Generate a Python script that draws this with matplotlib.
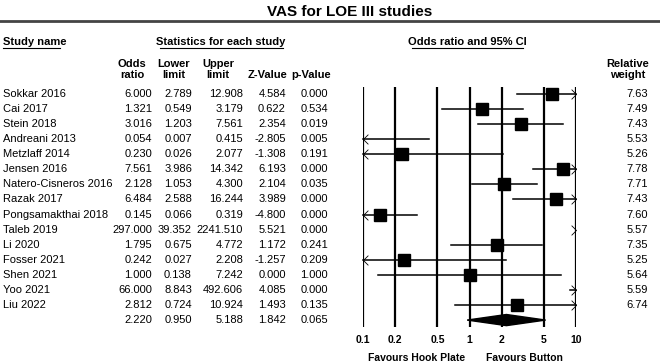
import matplotlib
matplotlib.use("Agg")
import matplotlib.pyplot as plt
from matplotlib.path import Path
from matplotlib.patches import Polygon

plt.rcParams['font.family'] = ['Liberation Sans', 'DejaVu Sans']

# data
studies = ["Sokkar 2016", "Cai 2017", "Stein 2018", "Andreani 2013", "Metzlaff 2014",
           "Jensen 2016", "Natero-Cisneros 2016", "Razak 2017", "Pongsamakthai 2018",
           "Taleb 2019", "Li 2020", "Fosser 2021", "Shen 2021", "Yoo 2021", "Liu 2022"]
odds = [6.000, 1.321, 3.016, 0.054, 0.230, 7.561, 2.128, 6.484, 0.145, 297.000,
        1.795, 0.242, 1.000, 66.000, 2.812]
lower = [2.789, 0.549, 1.203, 0.007, 0.026, 3.986, 1.053, 2.588, 0.066, 39.352,
         0.675, 0.027, 0.138, 8.843, 0.724]
upper = [12.908, 3.179, 7.561, 0.415, 2.077, 14.342, 4.300, 16.244, 0.319, 2241.510,
         4.772, 2.208, 7.242, 492.606, 10.924]
zval = [4.584, 0.622, 2.354, -2.805, -1.308, 6.193, 2.104, 3.989, -4.800, 5.521,
        1.172, -1.257, 0.000, 4.085, 1.493]
pval = [0.000, 0.534, 0.019, 0.005, 0.191, 0.000, 0.035, 0.000, 0.000, 0.000,
        0.241, 0.209, 1.000, 0.000, 0.135]
weight = [7.63, 7.49, 7.43, 5.53, 5.26, 7.78, 7.71, 7.43, 7.60, 5.57,
          7.35, 5.25, 5.64, 5.59, 6.74]
summary = [2.220, 0.950, 5.188, 1.842, 0.065]
xticks = [0.1, 0.2, 0.5, 1, 2, 5, 10]
xticklabels = ["0.1", "0.2", "0.5", "1", "2", "5", "10"]

W, H = 660, 364
fig = plt.figure(figsize=(W / 100, H / 100), dpi=100)

# text layer in pixel coords
tax = fig.add_axes([0, 0, 1, 1])
tax.set_xlim(0, W)
tax.set_ylim(H, 0)
tax.axis('off')

row0, dy = 94, 15.07
fs = 8

tax.text(350, 12, "VAS for LOE III studies", ha='center', va='center',
         fontsize=11, fontweight='bold')
tax.plot([0, W], [20.5, 20.5], color='#444444', lw=2)

# section headers
tax.text(3, 42, "Study name", ha='left', va='center', fontsize=fs, fontweight='bold')
tax.plot([3, 60], [48, 48], color='black', lw=0.8)
tax.text(221, 42, "Statistics for each study", ha='center', va='center', fontsize=fs,
         fontweight='bold')
tax.plot([160, 283], [48, 48], color='black', lw=0.8)
tax.text(467, 42, "Odds ratio and 95% CI", ha='center', va='center', fontsize=fs,
         fontweight='bold')
tax.plot([412, 523], [48, 48], color='black', lw=0.8)

col_heads = [("Odds\nratio", 132), ("Lower\nlimit", 174), ("Upper\nlimit", 218),
             ("Z-Value", 268), ("p-Value", 311), ("Relative\nweight", 628)]
for lab, x in col_heads:
    tax.text(x, 78, lab, ha='center', va='baseline', fontsize=fs, fontweight='bold',
             multialignment='center', linespacing=1.15)

col_x = [152, 192, 243, 286, 328]
for i in range(len(studies)):
    y = row0 + i * dy
    tax.text(3, y, studies[i], ha='left', va='center', fontsize=fs)
    vals = [odds[i], lower[i], upper[i], zval[i], pval[i]]
    for v, x in zip(vals, col_x):
        tax.text(x, y, f"{v:.3f}", ha='right', va='center', fontsize=fs)
    tax.text(648, y, f"{weight[i]:.2f}", ha='right', va='center', fontsize=fs)
ys = row0 + len(studies) * dy
for v, x in zip(summary, col_x):
    tax.text(x, ys, f"{v:.3f}", ha='right', va='center', fontsize=fs)

tax.text(417, 358, "Favours Hook Plate", ha='center', va='center', fontsize=7.5,
         fontweight='bold')
tax.text(524, 358, "Favours Button", ha='center', va='center', fontsize=7.5,
         fontweight='bold')

# forest plot
ax = fig.add_axes([363 / W, 1 - 327 / H, 213 / W, 240 / H])
ax.set_xscale('log')
ax.set_xlim(0.1, 10)
ax.set_ylim(15.46, -0.46)
ax.patch.set_alpha(0)
for s in ax.spines.values():
    s.set_visible(False)
ax.set_yticks([])
ax.set_xticks(xticks)
ax.set_xticklabels(xticklabels, fontsize=7.5, fontweight='bold')
ax.xaxis.set_minor_locator(matplotlib.ticker.NullLocator())
ax.tick_params(axis='x', length=0, pad=6)
for t in xticks:
    ax.axvline(t, color='black', lw=1.6, zorder=1)

right_chev = Path([(-1, 1), (0, 0), (-1, -1)], [Path.MOVETO, Path.LINETO, Path.LINETO])
left_chev = Path([(1, 1), (0, 0), (1, -1)], [Path.MOVETO, Path.LINETO, Path.LINETO])

xmin, xmax = 0.1, 10
for i in range(len(studies)):
    lo, hi = max(lower[i], xmin), min(upper[i], xmax)
    if lo < hi:
        ax.plot([lo, hi], [i, i], color='black', lw=1.1, zorder=2, clip_on=False)
    if upper[i] > xmax:
        ax.plot([xmax], [i], marker=right_chev, ms=7, mfc='none', mec='black',
                mew=0.6, zorder=3, clip_on=False)
    if lower[i] < xmin:
        ax.plot([xmin], [i], marker=left_chev, ms=7, mfc='none', mec='black',
                mew=0.6, zorder=3, clip_on=False)
    if xmin < odds[i] < xmax:
        ax.plot([odds[i]], [i], marker='s', ms=8.5, color='black', zorder=4)

n = len(studies)
diamond = Polygon([(summary[1], n), (summary[0], n - 0.37), (summary[2], n),
                   (summary[0], n + 0.37)], closed=True, color='black', zorder=4)
ax.add_patch(diamond)

fig.savefig("out.png", dpi=100)
